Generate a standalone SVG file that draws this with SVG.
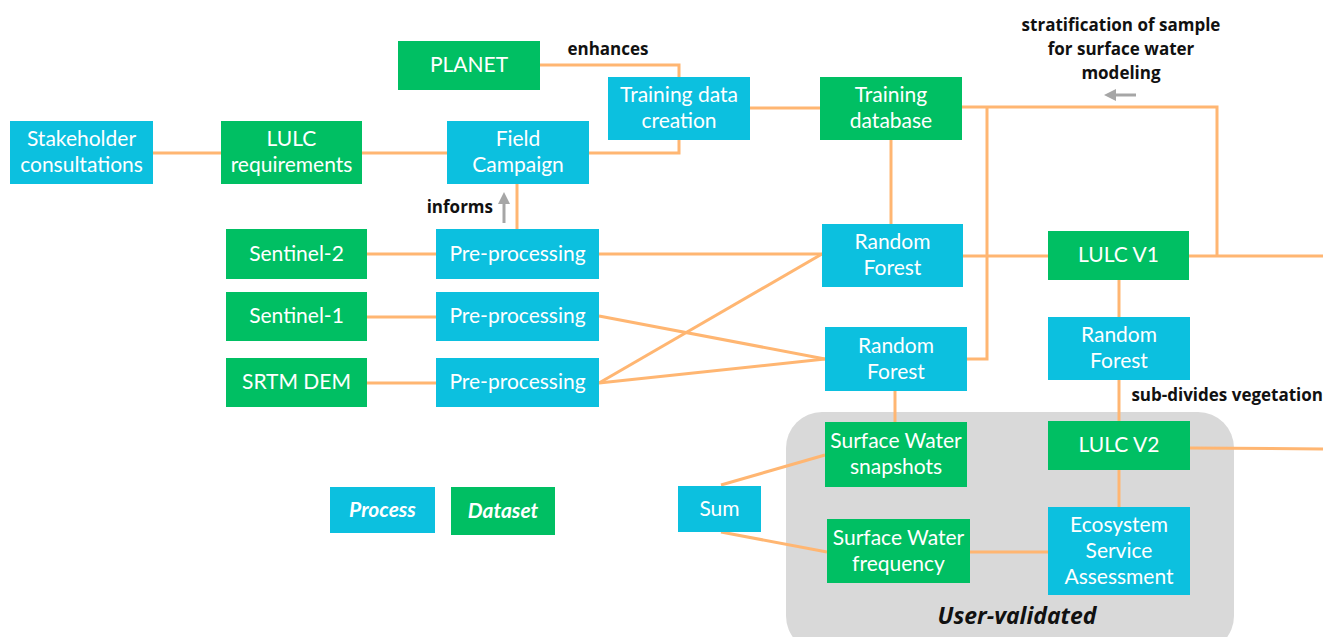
<svg xmlns="http://www.w3.org/2000/svg" width="1323" height="637" viewBox="0 0 1323 637">
<style>
.p{fill:#0CC0DF}
.d{fill:#00BF63}
.t{font-family:Lato,"Open Sans",sans-serif;font-size:21px;fill:#fff;text-anchor:middle}
.lb{font-family:"Open Sans","Noto Sans",sans-serif;font-size:17px;font-weight:700;fill:#111}
.c{stroke:#FFB672;stroke-width:3;fill:none}
.g{stroke:#A6A6A6;stroke-width:3;fill:none}
</style>
<defs>
<marker id="ah" markerWidth="4" markerHeight="4" refX="2" refY="2" orient="auto" markerUnits="strokeWidth">
<path d="M0,0 L4,2 L0,4 Z" fill="#A6A6A6"/>
</marker>
</defs>
<rect x="786" y="412" width="448" height="240" rx="36" fill="#D9D9D9"/>
<text x="1017" y="624" font-family="'Open Sans','Noto Sans',sans-serif" font-size="23" font-weight="700" font-style="italic" fill="#111" text-anchor="middle">User-validated</text>
<g id="connectors">
<line class="c" x1="152" y1="153" x2="221" y2="153"/>
<line class="c" x1="362" y1="153" x2="447" y2="153"/>
<polyline class="c" points="540,65 679,65 679,77"/>
<polyline class="c" points="589,153 679,153 679,140"/>
<line class="c" x1="750" y1="108" x2="820" y2="108"/>
<polyline class="c" points="962,107 1217,107 1217,256"/>
<polyline class="c" points="987,107 987,359 967,359"/>
<line class="c" x1="891" y1="140" x2="891" y2="224"/>
<line class="c" x1="517" y1="184" x2="517" y2="229"/>
<line class="c" x1="367" y1="254" x2="436" y2="254"/>
<line class="c" x1="367" y1="317" x2="436" y2="317"/>
<line class="c" x1="367" y1="383" x2="436" y2="383"/>
<line class="c" x1="599" y1="254" x2="822" y2="254"/>
<line class="c" x1="599" y1="383" x2="822" y2="254"/>
<line class="c" x1="599" y1="383" x2="825" y2="359"/>
<line class="c" x1="599" y1="316" x2="825" y2="359"/>
<line class="c" x1="963" y1="256" x2="1048" y2="256"/>
<line class="c" x1="1189" y1="256" x2="1323" y2="256"/>
<line class="c" x1="1119" y1="280" x2="1119" y2="317"/>
<line class="c" x1="1119" y1="380" x2="1119" y2="421"/>
<line class="c" x1="895" y1="391" x2="895" y2="422"/>
<line class="c" x1="721" y1="485" x2="825" y2="455"/>
<line class="c" x1="721" y1="532" x2="827" y2="552"/>
<line class="c" x1="970" y1="552" x2="1048" y2="552"/>
<line class="c" x1="1119" y1="470" x2="1119" y2="507"/>
<line class="c" x1="1190" y1="448" x2="1323" y2="449"/>
<line class="g" x1="1136" y1="95" x2="1110" y2="95" marker-end="url(#ah)"/>
<line class="g" x1="504" y1="223" x2="504" y2="198" marker-end="url(#ah)"/>
</g>
<g id="labels">
<text class="lb" x="608" y="55" text-anchor="middle">enhances</text>
<text class="lb" x="1121" y="31" text-anchor="middle">stratification of sample</text>
<text class="lb" x="1121" y="55" text-anchor="middle">for surface water</text>
<text class="lb" x="1121" y="79" text-anchor="middle">modeling</text>
<text class="lb" x="493" y="213" text-anchor="end">informs</text>
<text class="lb" x="1323" y="401" text-anchor="end">sub-divides vegetation</text>
</g>
<g id="stakeholder"><rect class="p" x="10" y="121" width="143" height="63"/><text class="t" x="81.5" y="146">Stakeholder</text><text class="t" x="81.5" y="172">consultations</text></g>
<g id="lulc-req"><rect class="d" x="221" y="121" width="141" height="63"/><text class="t" x="291.5" y="146">LULC</text><text class="t" x="291.5" y="172">requirements</text></g>
<g id="planet"><rect class="d" x="398" y="41" width="142" height="49"/><text class="t" x="469" y="72">PLANET</text></g>
<g id="field"><rect class="p" x="447" y="121" width="142" height="63"/><text class="t" x="518" y="146">Field</text><text class="t" x="518" y="172">Campaign</text></g>
<g id="training-creation"><rect class="p" x="608" y="77" width="142" height="63"/><text class="t" x="679" y="102">Training data</text><text class="t" x="679" y="128">creation</text></g>
<g id="training-db"><rect class="d" x="820" y="77" width="142" height="63"/><text class="t" x="891" y="102">Training</text><text class="t" x="891" y="128">database</text></g>
<g id="s2"><rect class="d" x="226" y="229" width="141" height="50"/><text class="t" x="296.5" y="261">Sentinel-2</text></g>
<g id="s1"><rect class="d" x="226" y="292" width="141" height="49"/><text class="t" x="296.5" y="323">Sentinel-1</text></g>
<g id="srtm"><rect class="d" x="226" y="358" width="141" height="49"/><text class="t" x="296.5" y="389">SRTM DEM</text></g>
<g id="pre1"><rect class="p" x="436" y="229" width="163" height="50"/><text class="t" x="517.5" y="261">Pre-processing</text></g>
<g id="pre2"><rect class="p" x="436" y="292" width="163" height="49"/><text class="t" x="517.5" y="323">Pre-processing</text></g>
<g id="pre3"><rect class="p" x="436" y="358" width="163" height="49"/><text class="t" x="517.5" y="389">Pre-processing</text></g>
<g id="rf1"><rect class="p" x="822" y="224" width="141" height="63"/><text class="t" x="892.5" y="249">Random</text><text class="t" x="892.5" y="275">Forest</text></g>
<g id="rf2"><rect class="p" x="825" y="327" width="142" height="64"/><text class="t" x="896" y="353">Random</text><text class="t" x="896" y="379">Forest</text></g>
<g id="lulc-v1"><rect class="d" x="1048" y="231" width="141" height="49"/><text class="t" x="1118.5" y="262">LULC V1</text></g>
<g id="rf3"><rect class="p" x="1048" y="317" width="142" height="63"/><text class="t" x="1119" y="342">Random</text><text class="t" x="1119" y="368">Forest</text></g>
<g id="lulc-v2"><rect class="d" x="1048" y="421" width="142" height="49"/><text class="t" x="1119" y="452">LULC V2</text></g>
<g id="sw-snap"><rect class="d" x="825" y="422" width="142" height="65"/><text class="t" x="896" y="448">Surface Water</text><text class="t" x="896" y="474">snapshots</text></g>
<g id="sw-freq"><rect class="d" x="827" y="519" width="143" height="64"/><text class="t" x="898.5" y="545">Surface Water</text><text class="t" x="898.5" y="571">frequency</text></g>
<g id="ecosystem"><rect class="p" x="1048" y="507" width="142" height="88"/><text class="t" x="1119" y="532">Ecosystem</text><text class="t" x="1119" y="558">Service</text><text class="t" x="1119" y="584">Assessment</text></g>
<g id="sum"><rect class="p" x="678" y="486" width="83" height="46"/><text class="t" x="719.5" y="516">Sum</text></g>
<g id="legend-process"><rect class="p" x="330" y="487" width="105" height="46"/><text class="t" x="382.5" y="517" font-weight="700" font-style="italic">Process</text></g>
<g id="legend-dataset"><rect class="d" x="451" y="487" width="104" height="48"/><text class="t" x="503" y="518" font-weight="700" font-style="italic">Dataset</text></g>
</svg>
